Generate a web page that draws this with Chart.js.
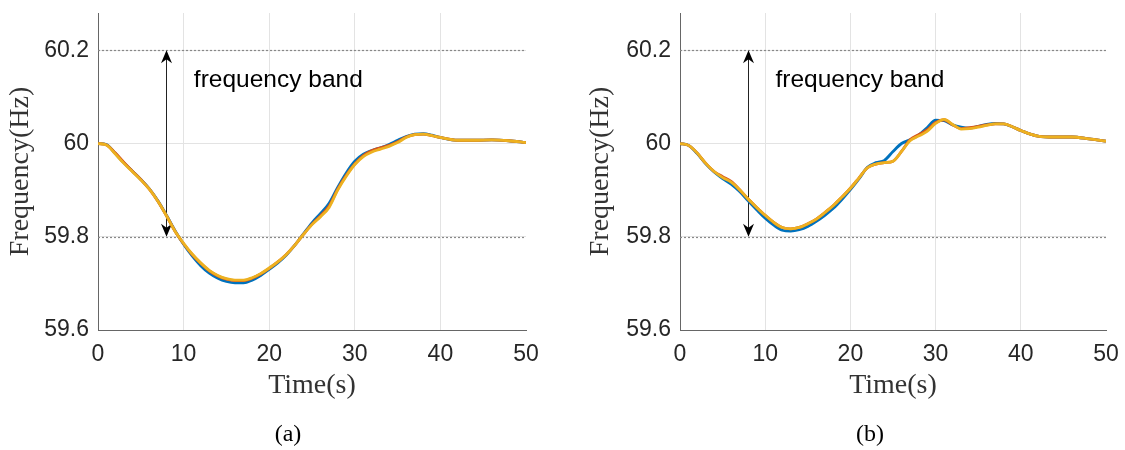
<!DOCTYPE html>
<html>
<head>
<meta charset="utf-8">
<script src="https://cdn.jsdelivr.net/npm/chart.js@4/dist/chart.umd.min.js"></script>
<style>
  body { margin: 0; background: #fff; }
  #wrap { position: relative; width: 1125px; height: 450px; overflow: hidden; }
  canvas { position: absolute; top: 0; }
  .cap { position: absolute; top: 420px; font: 24px "Liberation Serif", serif; color: #000; transform: translateX(-50%); }
</style>
</head>
<body>
<div id="wrap">
  <canvas id="chartA" width="560" height="450" style="left:0"></canvas>
  <canvas id="chartB" width="565" height="450" style="left:560px"></canvas>
  <div class="cap" style="left:288px">(a)</div>
  <div class="cap" style="left:870px">(b)</div>
</div>
<script>
// tiempos (s) comunes a las dos figuras
const tiempos = [0,1,2,3,4,5,6,7,8,9,10,11,12,13,14,15,16,17,18,19,20,
  21,22,23,24,25,26,27,28,29,30,31,32,33,34,35,36,37,38,39,40,42,44,46,48,50];

// figura (a)
const azulA = [60.000,59.998,59.979,59.959,59.941,59.923,59.903,59.877,59.846,59.813,
  59.784,59.759,59.738,59.722,59.711,59.704,59.701,59.701,59.707,59.717,
  59.730,59.744,59.761,59.782,59.806,59.830,59.850,59.872,59.906,59.937,
  59.962,59.977,59.985,59.991,59.998,60.007,60.015,60.020,60.021,60.018,
  60.013,60.007,60.007,60.008,60.006,60.002];
const rojoA = [60.000,59.997,59.980,59.960,59.941,59.923,59.902,59.876,59.845,59.812,
  59.785,59.762,59.743,59.727,59.716,59.709,59.706,59.706,59.711,59.720,
  59.732,59.746,59.762,59.782,59.805,59.827,59.845,59.866,59.902,59.932,
  59.956,59.974,59.985,59.991,59.996,60.004,60.014,60.019,60.020,60.017,
  60.013,60.007,60.007,60.008,60.006,60.002];
const amarilloA = [60.000,59.997,59.978,59.958,59.940,59.922,59.902,59.876,59.845,59.812,
  59.786,59.763,59.744,59.728,59.717,59.710,59.707,59.707,59.712,59.721,
  59.733,59.746,59.762,59.782,59.805,59.826,59.843,59.863,59.900,59.930,
  59.955,59.972,59.982,59.988,59.994,60.002,60.013,60.019,60.020,60.017,
  60.013,60.007,60.007,60.008,60.006,60.002];

// figura (b)
const azulB = [60.000,59.996,59.979,59.957,59.939,59.925,59.913,59.897,59.877,59.858,
  59.840,59.825,59.814,59.812,59.815,59.822,59.833,59.846,59.861,59.880,
  59.901,59.924,59.949,59.959,59.964,59.983,60.000,60.008,60.018,60.034,
  60.050,60.049,60.040,60.035,60.033,60.037,60.041,60.043,60.042,60.036,
  60.028,60.016,60.014,60.014,60.010,60.005];
const rojoB = [60.000,59.996,59.980,59.958,59.940,59.929,59.919,59.901,59.881,59.863,
  59.846,59.831,59.820,59.817,59.820,59.828,59.838,59.852,59.867,59.885,
  59.904,59.926,59.948,59.956,59.959,59.962,59.983,60.008,60.019,60.029,
  60.045,60.051,60.040,60.032,60.034,60.037,60.040,60.042,60.042,60.036,
  60.028,60.016,60.014,60.014,60.010,60.005];
const amarilloB = [60.000,59.996,59.980,59.958,59.940,59.927,59.917,59.901,59.881,59.863,
  59.846,59.831,59.820,59.817,59.820,59.828,59.838,59.852,59.867,59.885,
  59.904,59.926,59.948,59.956,59.959,59.962,59.983,60.006,60.016,60.026,
  60.043,60.052,60.041,60.031,60.032,60.035,60.039,60.042,60.042,60.036,
  60.028,60.016,60.014,60.014,60.010,60.005];

// ejes
const ticksX = [0, 10, 20, 30, 40, 50];
const ticksY = [59.6, 59.8, 60.0, 60.2];
const etiquetasY = ["59.6", "59.8", "60", "60.2"];
const banda = [59.8, 60.2];      // l칤neas punteadas
const flechaX = 8;               // posici칩n de la flecha
const textoBanda = { x: 11.2, y: 60.121, texto: "frequency band" };

const colores = ["#0072BD", "#D95319", "#EDB120"];
const nombres = ["azul", "rojo", "amarillo"];

// Dibuja la banda punteada, la flecha doble y el texto
const bandaPlugin = {
  id: "banda",
  beforeDatasetsDraw(chart) {
    const { ctx, chartArea: a, scales: { x, y } } = chart;
    ctx.save();
    // l칤neas punteadas
    ctx.strokeStyle = "#888";
    ctx.lineWidth = 1.2;
    ctx.setLineDash([2, 2]);
    banda.forEach((v) => {
      const py = Math.round(y.getPixelForValue(v)) + 0.5;
      ctx.beginPath();
      ctx.moveTo(a.left, py);
      ctx.lineTo(a.right, py);
      ctx.stroke();
    });
    ctx.setLineDash([]);
    // flecha
    const px = Math.round(x.getPixelForValue(flechaX)) + 0.5;
    const yTop = y.getPixelForValue(banda[1]);
    const yBot = y.getPixelForValue(banda[0]);
    ctx.strokeStyle = "#222";
    ctx.lineWidth = 1;
    ctx.beginPath();
    ctx.moveTo(px, yTop + 6);
    ctx.lineTo(px, yBot - 6);
    ctx.stroke();
    ctx.fillStyle = "#000";
    const head = (tipY, dir) => {
      ctx.beginPath();
      ctx.moveTo(px, tipY);
      ctx.lineTo(px - 5.5, tipY + dir * 13);
      ctx.lineTo(px, tipY + dir * 9);
      ctx.lineTo(px + 5.5, tipY + dir * 13);
      ctx.closePath();
      ctx.fill();
    };
    head(yTop, 1);
    head(yBot, -1);
    // texto
    ctx.fillStyle = "#000";
    ctx.font = '24.5px "Liberation Sans", Arial, sans-serif';
    ctx.textAlign = "left";
    ctx.textBaseline = "alphabetic";
    ctx.fillText(textoBanda.texto, x.getPixelForValue(textoBanda.x), y.getPixelForValue(textoBanda.y));
    ctx.restore();
  },
};

function crearGrafico(id, series, anchoY, padIzq, padDer) {
  const datasets = series.map((valores, i) => ({
    label: nombres[i],
    data: tiempos.map((t, k) => ({ x: t, y: valores[k] })),
    borderColor: colores[i],
    borderWidth: 2.8,
    pointRadius: 0,
    fill: false,
    cubicInterpolationMode: "monotone",
    order: 3 - i,
  }));

  const ctx = document.getElementById(id).getContext("2d");
  return new Chart(ctx, {
    type: "line",
    data: { datasets: datasets },
    plugins: [bandaPlugin],
    options: {
      responsive: false,
      animation: false,
      devicePixelRatio: 1,
      layout: { padding: { left: padIzq, right: padDer, top: 0, bottom: 45 } },
      plugins: {
        legend: { display: false },
        tooltip: { enabled: false },
      },
      scales: {
        x: {
          type: "linear",
          min: 0,
          max: 50,
          afterBuildTicks: (s) => { s.ticks = ticksX.map((v) => ({ value: v })); },
          afterFit: (s) => { s.height = 75; s.paddingLeft = 0; s.paddingRight = 0; },
          ticks: {
            color: "#262626",
            padding: 11,
            maxRotation: 0,
            font: { family: '"Liberation Sans", Arial, sans-serif', size: 23 },
          },
          grid: {
            drawTicks: false,
            color: (c) => (c.tick && (c.tick.value === 0 || c.tick.value === 50) ? "rgba(0,0,0,0)" : "#e3e3e3"),
            lineWidth: 1,
          },
          border: { color: "#666", width: 1 },
          title: {
            display: true,
            text: "Time(s)",
            color: "#333",
            padding: { top: 0, bottom: 3 },
            font: { family: '"Liberation Serif", "Times New Roman", serif', size: 28 },
          },
        },
        y: {
          min: 59.6,
          max: 60.28,
          afterBuildTicks: (s) => { s.ticks = ticksY.map((v) => ({ value: v })); },
          afterFit: (s) => { s.width = anchoY; s.paddingTop = 13; s.paddingBottom = 0; },
          ticks: {
            color: "#262626",
            padding: 9,
            callback: (v) => etiquetasY[ticksY.findIndex((t) => Math.abs(t - v) < 1e-6)],
            font: { family: '"Liberation Sans", Arial, sans-serif', size: 23 },
          },
          grid: {
            drawTicks: false,
            color: (c) => (c.tick && Math.abs(c.tick.value - 59.6) < 1e-6 ? "rgba(0,0,0,0)" : "#e3e3e3"),
            lineWidth: 1,
          },
          border: { color: "#666", width: 1 },
          title: {
            display: true,
            text: "Frequency(Hz)",
            color: "#333",
            padding: { top: 4, bottom: 0 },
            font: { family: '"Liberation Serif", "Times New Roman", serif', size: 28 },
          },
        },
      },
    },
  });
}

crearGrafico("chartA", [azulA, rojoA, amarilloA], 98, 0, 34);
crearGrafico("chartB", [azulB, rojoB, amarilloB], 100, 20, 19);
</script>
</body>
</html>
